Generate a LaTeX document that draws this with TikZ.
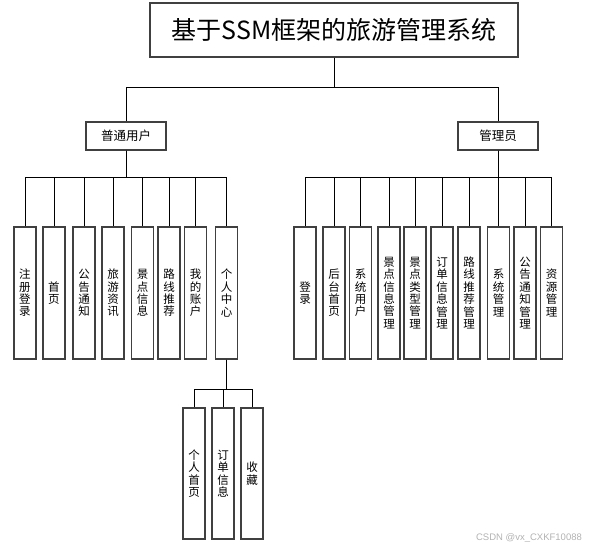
\documentclass[tikz,border=0pt]{standalone}
\usepackage{fontspec}
\setmainfont{Noto Sans CJK SC}
\newfontfamily\wmfont{Liberation Sans}
\begin{document}
\begin{tikzpicture}[x=1pt,y=-1pt,
  box/.style={draw=black!75,line width=1.1pt,rectangle,inner sep=0pt,fill=white},
  titlebox/.style={box,minimum width=368pt,minimum height=54pt,font=\fontsize{25}{27}\selectfont},
  rolebox/.style={box,minimum width=80pt,minimum height=28pt,font=\fontsize{12.5}{14}\selectfont},
  leafbox/.style={box,minimum width=22pt,minimum height=132pt,align=center,font=\fontsize{11.5}{12.4}\selectfont},
  link/.style={draw=black,line width=0.9pt}]
\useasboundingbox (0,0) rectangle (590,550);
\node[titlebox] (T) at (334,30) {基于SSM框架的旅游管理系统};
\node[rolebox] (U) at (126,136) {普通用户};
\node[rolebox] (A) at (498,136) {管理员};
\draw[link] (T.south) -- ++(0,30) -| (U.north);
\draw[link] (T.south) -- ++(0,30) -| (A.north);
% user leaves
\foreach \n/\x/\t in {L1/25/{注\\册\\登\\录},L2/54/{首\\页},L3/84/{公\\告\\通\\知},L4/113/{旅\\游\\资\\讯},L5/142.5/{景\\点\\信\\息},L6/169/{路\\线\\推\\荐},L7/195.5/{我\\的\\账\\户},L8/226.5/{个\\人\\中\\心}}{
  \node[leafbox] (\n) at (\x,293) {\t};
  \draw[link] (U.south) -- ++(0,27) -| (\n.north);
}
% admin leaves
\foreach \n/\x/\t in {R1/305/{登\\录},R2/334/{后\\台\\首\\页},R3/360.5/{系\\统\\用\\户},R4/389/{景\\点\\信\\息\\管\\理},R5/415/{景\\点\\类\\型\\管\\理},R6/442/{订\\单\\信\\息\\管\\理},R7/469/{路\\线\\推\\荐\\管\\理},R8/498.5/{系\\统\\管\\理},R9/525/{公\\告\\通\\知\\管\\理},R10/551.5/{资\\源\\管\\理}}{
  \node[leafbox] (\n) at (\x,293) {\t};
  \draw[link] (A.south) -- ++(0,27) -| (\n.north);
}
% personal center subtree
\foreach \n/\x/\t in {S1/194/{个\\人\\首\\页},S2/223/{订\\单\\信\\息},S3/252/{收\\藏}}{
  \node[leafbox,minimum height=131pt] (\n) at (\x,473.5) {\t};
  \draw[link] (L8.south) -- ++(0,30) -| (\n.north);
}
\node[font=\wmfont\fontsize{9.5}{11}\selectfont,text=black!30,inner sep=0pt] (W) at (529,538) {CSDN @vx\_CXKF10088};
\end{tikzpicture}
\end{document}
